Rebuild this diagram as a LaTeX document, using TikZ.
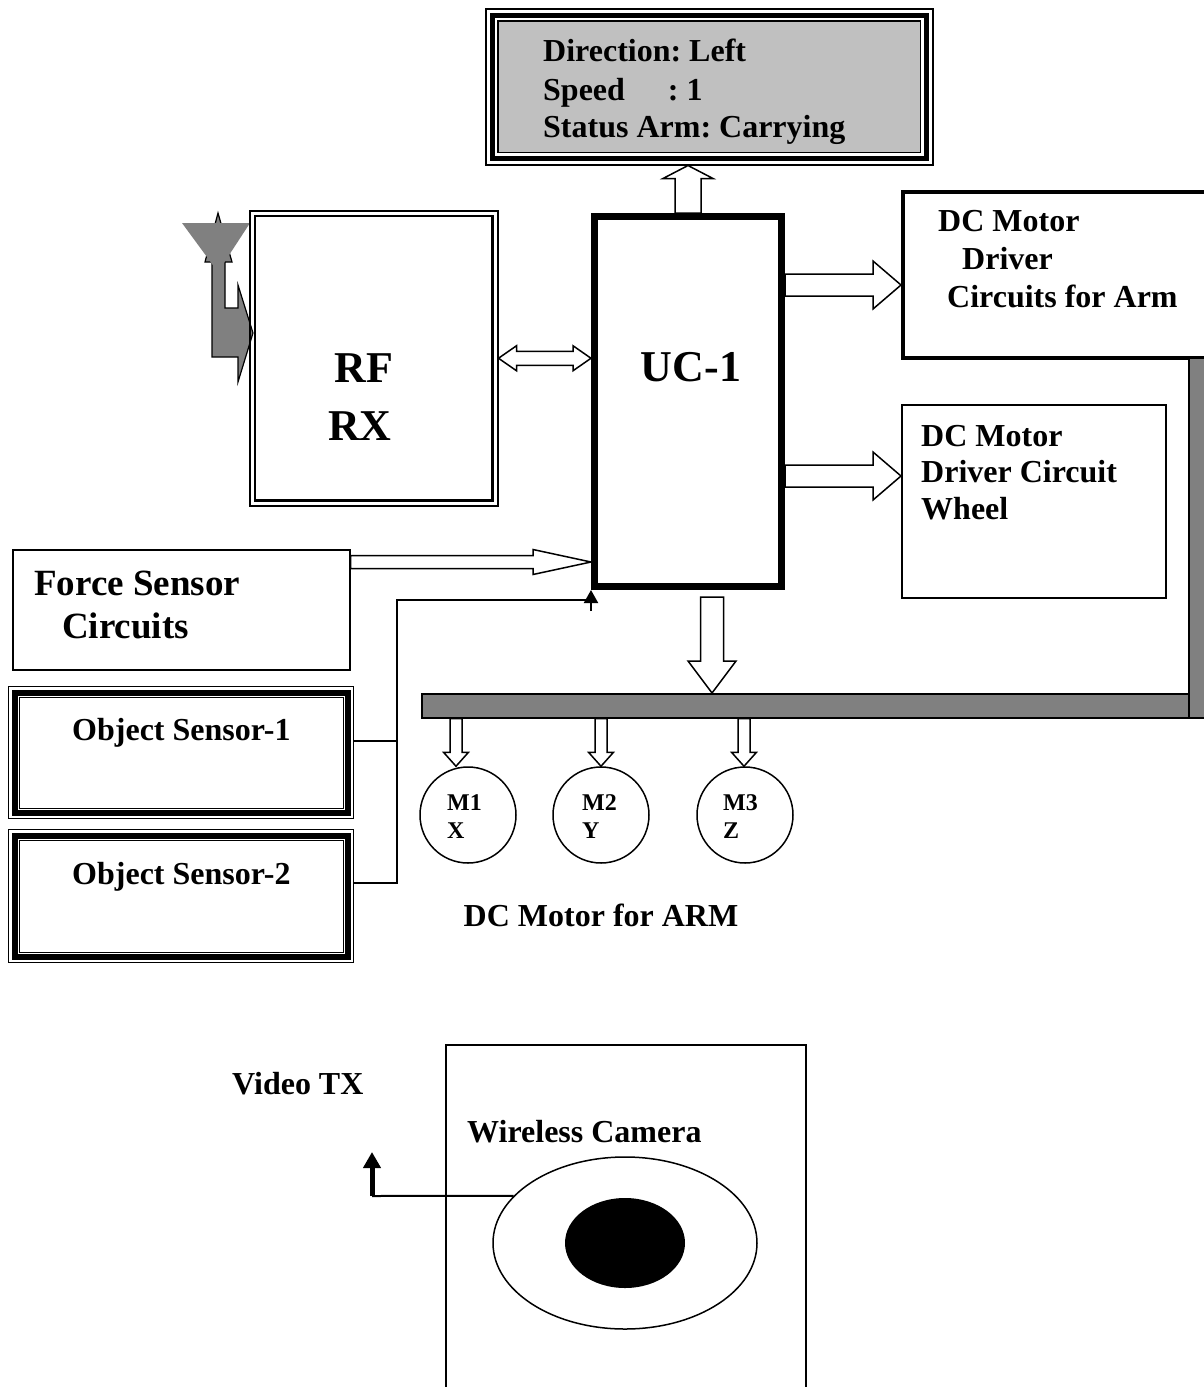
\documentclass[tikz,border=0pt]{standalone}
\usepackage{fontspec}
\setmainfont{Liberation Serif}
\usetikzlibrary{calc,arrows.meta,shapes.geometric,backgrounds}

\definecolor{lcdgray}{RGB}{192,192,192}
\definecolor{bargray}{RGB}{128,128,128}

% hollow block arrow: #1 start, #2 tip, #3 half shaft, #4 half head, #5 head length
\newcommand{\blockarrow}[5]{%
  \coordinate (bahead) at ($(#2)!#5!(#1)$);
  \draw[blockline] ($(#1)!#3!90:(#2)$) -- ($(bahead)!#3!-90:(#1)$) -- ($(bahead)!#4!-90:(#1)$)
    -- (#2) -- ($(bahead)!#4!90:(#1)$) -- ($(bahead)!#3!90:(#1)$) -- ($(#1)!#3!-90:(#2)$) -- cycle;}
% same with a head at both ends
\newcommand{\blockdarrow}[5]{%
  \coordinate (bda) at ($(#1)!#5!(#2)$);
  \coordinate (bdb) at ($(#2)!#5!(#1)$);
  \draw[blockline] (#1) -- ($(bda)!#4!90:(#2)$) -- ($(bda)!#3!90:(#2)$) -- ($(bdb)!#3!-90:(#1)$)
    -- ($(bdb)!#4!-90:(#1)$) -- (#2) -- ($(bdb)!#4!90:(#1)$) -- ($(bdb)!#3!90:(#1)$)
    -- ($(bda)!#3!-90:(#2)$) -- ($(bda)!#4!-90:(#2)$) -- cycle;}

\tikzset{
  box/.style={draw, line width=1.5pt, inner sep=0pt, anchor=north west},
  lbl/.style={font=\bfseries\fontsize{32}{38}\selectfont, inner sep=0pt, anchor=base west},
  big/.style={font=\bfseries\fontsize{44}{53}\selectfont, inner sep=0pt, anchor=base},
  small/.style={font=\bfseries\fontsize{24}{28}\selectfont, inner sep=0pt, anchor=base west},
  motor/.style={draw, circle, line width=1.5pt, minimum size=96pt, inner sep=0pt},
  blockline/.style={draw, fill=white, line width=1.5pt, line join=miter},
  wire/.style={line width=2pt},
  sigtip/.tip={Triangle[length=13pt, width=14pt]},
}

\begin{document}
\frenchspacing
\begin{tikzpicture}[x=1pt, y=-1pt]
		\useasboundingbox (0,0) rectangle (1204,1387);
		
		% display
		\node [box, minimum width=447pt, minimum height=156pt] (lcd) at (485,8) {};
		\fill [lcdgray] ($(lcd.north west)+(13,13)$) rectangle ($(lcd.south east)-(13,13)$);
		\draw [line width=5pt] ($(lcd.north west)+(7,7)$) rectangle ($(lcd.south east)-(7,7)$);
		\draw [line width=1.5pt] ($(lcd.north west)+(13,13)$) rectangle ($(lcd.south east)-(13,13)$);
		\node [lbl] (dir) at (543,61) {Direction: Left};
		\node [lbl] (spd) at (543,100) {Speed\hspace{43pt}: 1};
		\node [lbl] (sta) at (543,137) {Status Arm: Carrying};
		
		% antenna
		\filldraw [fill=bargray, line width=1.2pt] (218,213) -- (232,262) -- (225,262) -- (225,308) -- (238,308) -- (238,285) -- (253,333) -- (238,382) -- (238,357) -- (212,357) -- (212,262) -- (205,262) -- cycle;
		\fill [bargray] (182,223) -- (250,223) -- (218,272) -- cycle;
		
		% receiver
		\node [box, minimum width=248pt, minimum height=295pt] (rf) at (249,210) {};
		\draw [line width=2.5pt] ($(rf.north west)+(6,6)$) rectangle ($(rf.south east)-(6,6)$);
		\node [big] (rft) at (364,382) {RF};
		\node [big] (rxt) at (360,440) {RX};
		
		% controller
		\node [box, line width=7pt, minimum width=187pt, minimum height=370pt] (uc) at (591,213) {};
		\node [big] (uct) at (691,381) {UC-1};
		
		% motor drivers
		\node [box, line width=3.5pt, minimum width=330pt, minimum height=166pt] (armdrv) at (901,190) {};
		\node [lbl] (armA) at (938,231) {DC Motor};
		\node [lbl] (armB) at (962,269) {Driver};
		\node [lbl] (armC) at (947,307) {Circuits for Arm};
		
		\node [box, minimum width=264pt, minimum height=193pt] (wheel) at (901,404) {};
		\node [lbl] (whA) at (921,446) {DC Motor};
		\node [lbl] (whB) at (921,482) {Driver Circuit};
		\node [lbl] (whC) at (921,519) {Wheel};
		
		% sensors
		\node [box, minimum width=337pt, minimum height=120pt] (force) at (12,549) {};
		\node [lbl, font=\bfseries\fontsize{37}{43}\selectfont] (frA) at (34,595) {Force Sensor};
		\node [lbl, font=\bfseries\fontsize{37}{43}\selectfont] (frB) at (62,638) {Circuits};
		
		\node [box, line width=1.2pt, minimum width=345pt, minimum height=132pt] (os1) at (8,686) {};
		\draw [line width=6pt] ($(os1.north west)+(6.5,6.5)$) rectangle ($(os1.south east)-(6.5,6.5)$);
		\draw [line width=1pt] ($(os1.north west)+(11,11)$) rectangle ($(os1.south east)-(11,11)$);
		\node [lbl] (os1t) at (72,740) {Object Sensor-1};
		
		\node [box, line width=1.2pt, minimum width=345pt, minimum height=133pt] (os2) at (8,829) {};
		\draw [line width=6pt] ($(os2.north west)+(6.5,6.5)$) rectangle ($(os2.south east)-(6.5,6.5)$);
		\draw [line width=1pt] ($(os2.north west)+(11,11)$) rectangle ($(os2.south east)-(11,11)$);
		\node [lbl] (os2t) at (72,884) {Object Sensor-2};
		
		% arm bus
		\node [box, fill=bargray, minimum width=767pt, minimum height=24pt] (bar) at (421,693) {};
		\node [box, fill=bargray, minimum width=30pt, minimum height=360pt] (barv) at (1188,357) {};
		
		% arm motors
		\node [motor] (m1) at (468,815) {};
		\node [motor] (m2) at (601,815) {};
		\node [motor] (m3) at (745,815) {};
		\node [small] (m1a) at (447,810) {M1};
		\node [small] (m1b) at (447,838) {X};
		\node [small] (m2a) at (582,810) {M2};
		\node [small] (m2b) at (582,838) {Y};
		\node [small] (m3a) at (723,810) {M3};
		\node [small] (m3b) at (723,838) {Z};
		\node [lbl, anchor=base] (armlbl) at (601,926) {DC Motor for ARM};
		
		% camera
		\node [box, minimum width=360pt, minimum height=400pt] (cam) at (445,1044) {};
		\node [lbl] (camt) at (467,1142) {Wireless Camera};
		\node [draw, ellipse, line width=1.5pt, minimum width=264pt, minimum height=172pt, inner sep=0pt] (lens) at (625,1243) {};
		\node [ellipse, fill=black, minimum width=120pt, minimum height=90pt, inner sep=0pt] (pupil) at (lens.center) {};
		\node [lbl] (vtxt) at (232,1094) {Video TX};
		\coordinate (vtx) at (372,1196);
		\draw [line width=2pt] (vtx) -- (lens.157);
		\draw [line width=5pt, -{Triangle[length=16pt, width=17pt]}] (vtx) -- ++(0,-44);
		
		% sensor wires
		\coordinate (bus) at (397,600);
		\coordinate (up1) at ($(uc.south west)+(0,21)$);
		\coordinate (up2) at (uc.south west);
		\coordinate (o1) at ($(os1.north east)+(0,55)$);
		\coordinate (o2) at ($(os2.north east)+(0,54)$);
		\draw [wire] (o2) -| (bus) -- (bus -| up1);
		\draw [wire] (o1) -- (o1 -| bus);
		\draw [wire, -sigtip] (up1) -- (up2);
		
		% block arrows
		\begin{scope}[on background layer]
			\coordinate (lcdin) at (uc.north |- lcd.south);
			\blockarrow{uc.north}{lcdin}{13pt}{25pt}{13pt}
			
			\coordinate (rfin) at (uc.west |- rf.east);
			\blockdarrow{rf.east}{rfin}{7pt}{12.5pt}{18pt}
			
			\coordinate (a1) at ($(uc.north east)+(0,72)$);
			\coordinate (a2) at (a1 -| armdrv.west);
			\blockarrow{a1}{a2}{11pt}{24pt}{28pt}
			
			\coordinate (w1) at ($(uc.north east)+(0,263)$);
			\coordinate (w2) at (w1 -| wheel.west);
			\blockarrow{w1}{w2}{11pt}{24pt}{28pt}
			
			\coordinate (f1) at ($(force.north east)+(0,13)$);
			\coordinate (f2) at (uc.west |- f1);
			\blockarrow{f1}{f2}{6.5pt}{12.5pt}{58pt}
			
			\coordinate (d1) at ($(uc.south)+(24,7)$);
			\coordinate (d2) at (d1 |- bar.north);
			\blockarrow{d1}{d2}{11.5pt}{24pt}{32pt}
			
			\coordinate (m1top) at ($(m1.north)+(-12,0)$);
			\coordinate (m1bar) at (m1top |- bar.south);
			\blockarrow{m1bar}{m1top}{6pt}{12.5pt}{14pt}
			\coordinate (m2top) at (m2.north);
			\coordinate (m2bar) at (m2top |- bar.south);
			\blockarrow{m2bar}{m2top}{6pt}{12.5pt}{14pt}
			\coordinate (m3top) at ($(m3.north)+(-1,0)$);
			\coordinate (m3bar) at (m3top |- bar.south);
			\blockarrow{m3bar}{m3top}{6pt}{12.5pt}{14pt}
		\end{scope}
	\end{tikzpicture}
\end{document}
